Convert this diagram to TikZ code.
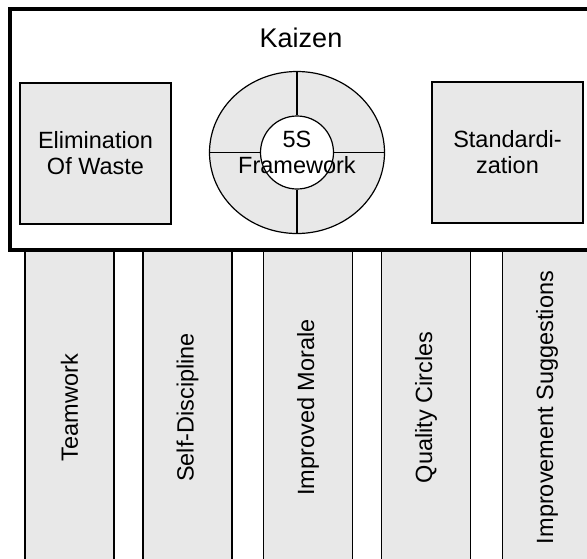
\documentclass[tikz,border=0pt]{standalone}
\usepackage{fontspec}
\setmainfont{Liberation Sans}
\usetikzlibrary{shapes.geometric}
\definecolor{boxgray}{RGB}{232,232,232}
\tikzset{
	panel/.style={draw, fill=boxgray, line width=1.2pt, inner sep=0pt},
	txt/.style={font=\fontsize{23.5}{26}\selectfont, align=center, inner sep=0pt}
}

\begin{document}
\begin{tikzpicture}[x=1pt, y=-1pt]
\useasboundingbox (0,0) rectangle (587,558);
\clip (0,0) rectangle (587,558);
% pillars under the roof
\foreach \x/\n/\t in {69.5/tw/Teamwork, 187.5/sd/Self-Discipline, 308/im/Improved Morale, 426/qc/Quality Circles, 547/is/Improvement Suggestions}{
	\node (\n) [panel, minimum width=89, minimum height=315] at (\x,407.5) {};
	\node (\n txt) [txt, rotate=90] at (\n) {\t};
}
% roof
\node (frame) [draw, fill=white, line width=4pt, minimum width=590, minimum height=241] at (305,129) {};
\node (kaizen) [txt, font=\fontsize{27}{30}\selectfont, anchor=base] at (301,47) {Kaizen};
\node (waste) [panel, txt, minimum width=151, minimum height=141] at (95.5,153.5) {Elimination\\Of Waste};
\node (std) [panel, txt, minimum width=151, minimum height=141] at (507.5,152.5) {Standardi-\\zation};
% 5S wheel
\node (ring) [panel, ellipse, minimum width=175, minimum height=162] at (297,152.5) {};
\node (hub) [draw, fill=white, circle, line width=1.2pt, inner sep=0pt, minimum size=73] at (297,152.5) {};
\draw[line width=1.2pt] (ring.west) -- (hub.west);
\draw[line width=1.2pt] (hub.east) -- (ring.east);
\draw[line width=1.2pt] (ring.north) -- (hub.north);
\draw[line width=1.2pt] (hub.south) -- (ring.south);
\node (fives) [txt] at (297,152.5) {5S\\Framework};
\end{tikzpicture}
\end{document}
